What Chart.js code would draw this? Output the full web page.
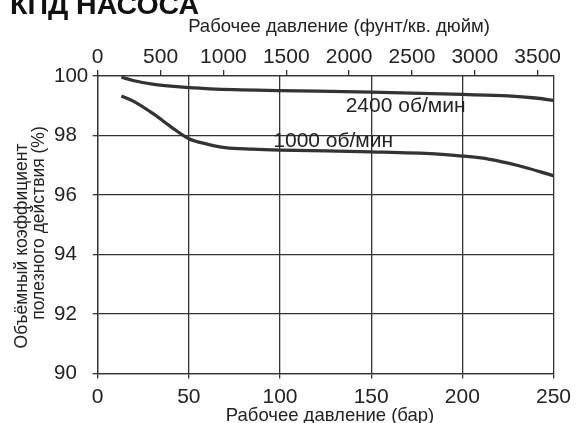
<!DOCTYPE html>
<html>
<head>
<meta charset="utf-8">
<script src="https://cdn.jsdelivr.net/npm/chart.js@4.4.1/dist/chart.umd.min.js"></script>
<style>
  body { margin: 0; background: #fff; }
  canvas { display: block; }
</style>
</head>
<body>
<canvas id="pumpChart" width="577" height="423"></canvas>
<script>
// data (pressure in bar, efficiency in %)
const barTicks = [0, 50, 100, 150, 200, 250];
const effTicks = [90, 92, 94, 96, 98, 100];
const psiTicks = [0, 500, 1000, 1500, 2000, 2500, 3000, 3500];
const PSI_PER_BAR = 14.5038;

const bar2400 = [13, 20, 30, 40, 50, 75, 100, 150, 200, 225, 240, 250];
const eff2400 = [99.96, 99.84, 99.73, 99.66, 99.61, 99.54, 99.51, 99.46, 99.38, 99.33, 99.26, 99.18];

const bar1000 = [13, 20, 30, 40, 50, 60, 70, 85, 100, 150, 185, 200, 215, 230, 250];
const eff1000 = [99.33, 99.14, 98.75, 98.30, 97.89, 97.71, 97.59, 97.54, 97.51, 97.45, 97.38, 97.31, 97.20, 97.00, 96.65];

const curveLabels = ['2400 об/мин', '1000 об/мин'];
const heading = 'КПД НАСОСА';
const xTitle = 'Рабочее давление (бар)';
const psiTitle = 'Рабочее давление (фунт/кв. дюйм)';
const yTitle = ['Объёмный коэффициент', 'полезного действия (%)'];

const FONT = '"Liberation Sans", Arial, sans-serif';
const INK = '#222';
const LINE = '#333';

const toPoints = (xs, ys) => xs.map((x, i) => ({ x: x, y: ys[i] }));

// heading, axis titles and curve labels
const textPlugin = {
    id: 'texts',
    afterDraw(chart) {
        const ctx = chart.ctx;
        const x = chart.scales.x;
        const y = chart.scales.y;
        ctx.save();
        ctx.textBaseline = 'alphabetic';

        ctx.fillStyle = '#111';
        ctx.font = 'bold 28.5px ' + FONT;
        ctx.textAlign = 'left';
        ctx.fillText(heading, 10, 14);

        ctx.fillStyle = INK;
        ctx.font = '18.5px ' + FONT;
        ctx.textAlign = 'center';
        ctx.fillText(psiTitle, 339, 32);
        ctx.fillText(xTitle, 330, 421);

        // rotated y title, two lines
        ctx.font = '17.5px ' + FONT;
        ctx.textBaseline = 'middle';
        ctx.save();
        ctx.translate(22, 246);
        ctx.rotate(-Math.PI / 2);
        ctx.fillText(yTitle[0], 0, 0);
        ctx.restore();
        ctx.save();
        ctx.translate(39.5, 223);
        ctx.rotate(-Math.PI / 2);
        ctx.fillText(yTitle[1], 0, 0);
        ctx.restore();

        ctx.textAlign = 'left';
        ctx.textBaseline = 'alphabetic';
        ctx.font = '21px ' + FONT;
        ctx.fillText(curveLabels[0], x.getPixelForValue(136), y.getPixelForValue(98.8));
        ctx.fillText(curveLabels[1], x.getPixelForValue(96.3), y.getPixelForValue(97.6));
        ctx.restore();
    }
};

const chart = new Chart(document.getElementById('pumpChart'), {
    type: 'line',
    data: {
        datasets: [
            {
                label: curveLabels[0],
                data: toPoints(bar2400, eff2400),
                borderColor: LINE,
                borderWidth: 3.3,
                pointRadius: 0,
                cubicInterpolationMode: 'monotone',
                xAxisID: 'x'
            },
            {
                label: curveLabels[1],
                data: toPoints(bar1000, eff1000),
                borderColor: LINE,
                borderWidth: 3.3,
                pointRadius: 0,
                cubicInterpolationMode: 'monotone',
                xAxisID: 'x'
            }
        ]
    },
    options: {
        responsive: false,
        animation: false,
        devicePixelRatio: 1,
        layout: { padding: { left: 54, right: 19, top: 0, bottom: 0 } },
        plugins: {
            legend: { display: false },
            tooltip: { enabled: false }
        },
        scales: {
            x: {
                type: 'linear',
                position: 'bottom',
                min: barTicks[0],
                max: barTicks[barTicks.length - 1],
                afterBuildTicks: (s) => { s.ticks = barTicks.map(v => ({ value: v })); },
                afterFit: (s) => { s.height = 49.5; },
                grid: { color: LINE, lineWidth: 1.3, tickLength: 5 },
                border: { color: LINE, width: 1.3 },
                ticks: { color: INK, font: { family: FONT, size: 21 }, padding: 6, maxRotation: 0 }
            },
            psi: {
                type: 'linear',
                position: 'top',
                min: 0,
                max: barTicks[barTicks.length - 1] * PSI_PER_BAR,
                afterBuildTicks: (s) => { s.ticks = psiTicks.map(v => ({ value: v })); },
                afterFit: (s) => { s.height = 76; },
                grid: { drawOnChartArea: false, color: LINE, lineWidth: 1.3, tickLength: 6 },
                border: { color: LINE, width: 1.3 },
                ticks: {
                    color: INK,
                    font: { family: FONT, size: 21, lineHeight: 1 },
                    padding: 2,
                    maxRotation: 0,
                    callback: (v) => String(v)
                }
            },
            y: {
                type: 'linear',
                position: 'left',
                min: effTicks[0],
                max: effTicks[effTicks.length - 1],
                afterBuildTicks: (s) => { s.ticks = effTicks.map(v => ({ value: v })); },
                afterFit: (s) => { s.width = 43.7; },
                grid: { color: LINE, lineWidth: 1.3, tickLength: 5 },
                border: { color: LINE, width: 1.3 },
                ticks: { color: INK, font: { family: FONT, size: 20.5 }, padding: 6, crossAlign: 'far' }
            }
        }
    },
    plugins: [textPlugin]
});
</script>
</body>
</html>
